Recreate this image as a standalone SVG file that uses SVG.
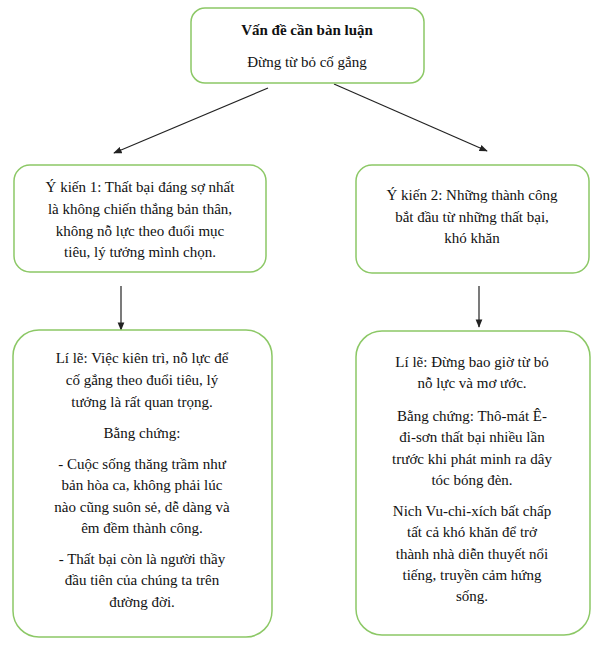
<svg xmlns="http://www.w3.org/2000/svg" width="603" height="645" viewBox="0 0 603 645">
<style>
.box{fill:#fff;stroke:#8cc866;stroke-width:1.5}
text{font-family:"Liberation Serif","DejaVu Serif",serif;font-size:15px;fill:#111;text-anchor:middle}
.c{stroke:#222;stroke-width:1.2;fill:none;marker-end:url(#a)}
</style>
<defs><marker id="a" viewBox="0 0 10 10" refX="9" refY="5" markerWidth="7" markerHeight="7" orient="auto"><path d="M0,1 L10,5 L0,9 z" fill="#222"/></marker></defs>
<rect width="603" height="645" fill="#fff"/>
<g id="connectors">
<line class="c" x1="268" y1="88" x2="114" y2="153"/>
<line class="c" x1="334" y1="84" x2="487" y2="151"/>
<line class="c" x1="121" y1="286" x2="121" y2="330"/>
<line class="c" x1="479" y1="286" x2="479" y2="327"/>
</g>
<g id="top"><rect class="box" x="191" y="8" width="233" height="75" rx="14"/>
<text x="307" y="35" font-weight="bold">Vấn đề cần bàn luận</text>
<text x="307" y="67">Đừng từ bỏ cố gắng</text></g>
<g id="y1"><rect class="box" x="14" y="165" width="252" height="107" rx="16"/>
<text x="140" y="192">Ý kiến 1: Thất bại đáng sợ nhất</text>
<text x="140" y="214">là không chiến thắng bản thân,</text>
<text x="140" y="236">không nỗ lực theo đuổi mục</text>
<text x="140" y="257">tiêu, lý tưởng mình chọn.</text></g>
<g id="y2"><rect class="box" x="356" y="165" width="233" height="108" rx="16"/>
<text x="472" y="200">Ý kiến 2: Những thành công</text>
<text x="472" y="222">bắt đầu từ những thất bại,</text>
<text x="472" y="243">khó khăn</text></g>
<g id="l1"><rect class="box" x="13" y="330" width="259" height="307" rx="26"/>
<text x="142" y="363">Lí lẽ: Việc kiên trì, nỗ lực để</text>
<text x="142" y="385">cố gắng theo đuổi tiêu, lý</text>
<text x="142" y="407">tưởng là rất quan trọng.</text>
<text x="142" y="438">Bằng chứng:</text>
<text x="142" y="469">- Cuộc sống thăng trầm như</text>
<text x="142" y="490">bản hòa ca, không phải lúc</text>
<text x="142" y="512">nào cũng suôn sẻ, dễ dàng và</text>
<text x="142" y="533">êm đềm thành công.</text>
<text x="142" y="564">- Thất bại còn là người thầy</text>
<text x="142" y="585">đầu tiên của chúng ta trên</text>
<text x="142" y="607">đường đời.</text></g>
<g id="l2"><rect class="box" x="356" y="331" width="234" height="304" rx="26"/>
<text x="472" y="367">Lí lẽ: Đừng bao giờ từ bỏ</text>
<text x="472" y="388">nỗ lực và mơ ước.</text>
<text x="472" y="421">Bằng chứng: Thô-mát Ê-</text>
<text x="472" y="442">đi-sơn thất bại nhiều lần</text>
<text x="472" y="464">trước khi phát minh ra dây</text>
<text x="472" y="485">tóc bóng đèn.</text>
<text x="472" y="516">Nich Vu-chi-xích bất chấp</text>
<text x="472" y="537">tất cả khó khăn để trở</text>
<text x="472" y="559">thành nhà diễn thuyết nổi</text>
<text x="472" y="580">tiếng, truyền cảm hứng</text>
<text x="472" y="601">sống.</text></g>
</svg>
